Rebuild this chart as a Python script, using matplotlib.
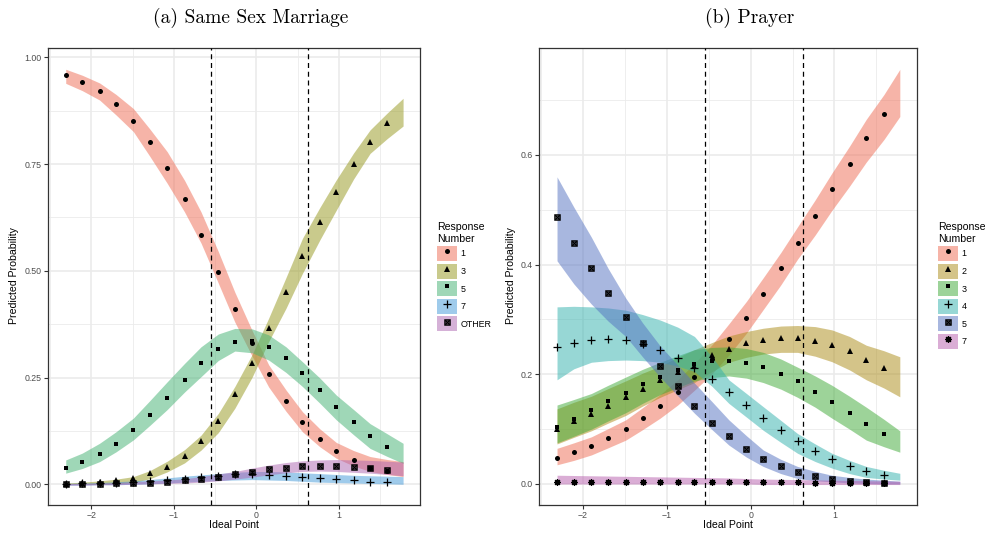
import matplotlib
matplotlib.use('Agg')
import matplotlib.pyplot as plt
from matplotlib.patches import Patch
from matplotlib.lines import Line2D
from matplotlib.legend_handler import HandlerTuple
from matplotlib.ticker import MultipleLocator, FormatStrFormatter

plt.rcParams['font.family'] = ['Liberation Sans', 'DejaVu Sans']

# ideal point grid of the points; the ribbons run one step further
x_pts = [-2.31, -2.11, -1.90, -1.70, -1.49, -1.29, -1.08, -0.87, -0.67, -0.46,
         -0.26, -0.05, 0.15, 0.36, 0.56, 0.77, 0.97, 1.18, 1.38, 1.59]
x_band = x_pts + [1.78]
cuts = [-0.55, 0.63]

# (a) same sex marriage
ssm_labels = ['1', '3', '5', '7', 'OTHER']
ssm_1 = [0.959, 0.942, 0.921, 0.891, 0.852, 0.802, 0.740, 0.667, 0.585, 0.498,
         0.411, 0.332, 0.258, 0.196, 0.147, 0.107, 0.078, 0.056, 0.037, 0.030]
ssm_3 = [0.001, 0.002, 0.005, 0.009, 0.014, 0.026, 0.040, 0.066, 0.101, 0.149,
         0.211, 0.283, 0.365, 0.450, 0.535, 0.614, 0.685, 0.749, 0.802, 0.845]
ssm_5 = [0.039, 0.053, 0.072, 0.095, 0.126, 0.163, 0.203, 0.245, 0.285, 0.317,
         0.334, 0.336, 0.322, 0.296, 0.261, 0.222, 0.182, 0.147, 0.114, 0.088]
ssm_7 = [0.001, 0.002, 0.003, 0.004, 0.006, 0.008, 0.010, 0.013, 0.016, 0.020,
         0.024, 0.025, 0.022, 0.019, 0.017, 0.014, 0.012, 0.009, 0.006, 0.005]
ssm_other = [0.000, 0.000, 0.001, 0.002, 0.003, 0.004, 0.006, 0.009, 0.012, 0.017,
             0.023, 0.028, 0.035, 0.039, 0.043, 0.044, 0.043, 0.040, 0.037, 0.034]

ssm_1_lo = [0.939, 0.922, 0.900, 0.865, 0.826, 0.768, 0.705, 0.638, 0.565, 0.471, 0.380,
            0.300, 0.228, 0.171, 0.123, 0.088, 0.061, 0.043, 0.030, 0.023, 0.018]
ssm_1_hi = [0.972, 0.958, 0.940, 0.913, 0.880, 0.832, 0.779, 0.712, 0.638, 0.545, 0.450,
            0.360, 0.280, 0.221, 0.170, 0.130, 0.098, 0.079, 0.065, 0.058, 0.053]
ssm_3_lo = [0.000, 0.000, 0.000, 0.001, 0.004, 0.013, 0.029, 0.050, 0.080, 0.121, 0.178,
            0.251, 0.334, 0.412, 0.494, 0.572, 0.642, 0.715, 0.775, 0.810, 0.839]
ssm_3_hi = [0.003, 0.005, 0.008, 0.012, 0.018, 0.032, 0.054, 0.081, 0.115, 0.166, 0.229,
            0.304, 0.389, 0.484, 0.576, 0.648, 0.713, 0.776, 0.830, 0.870, 0.904]
ssm_5_lo = [0.026, 0.037, 0.053, 0.076, 0.104, 0.138, 0.175, 0.216, 0.252, 0.290, 0.312,
            0.308, 0.291, 0.262, 0.229, 0.190, 0.151, 0.116, 0.084, 0.065, 0.049]
ssm_5_hi = [0.057, 0.073, 0.096, 0.123, 0.155, 0.196, 0.240, 0.283, 0.322, 0.352, 0.365,
            0.364, 0.350, 0.322, 0.287, 0.249, 0.209, 0.175, 0.142, 0.118, 0.096]
ssm_7_lo = [-0.002, -0.002, -0.001, -0.001, 0.000, 0.001, 0.003, 0.005, 0.007, 0.009, 0.010,
            0.011, 0.010, 0.009, 0.007, 0.005, 0.004, 0.003, 0.002, 0.001, 0.000]
ssm_7_hi = [0.002, 0.003, 0.004, 0.006, 0.008, 0.011, 0.015, 0.019, 0.022, 0.025, 0.028,
            0.030, 0.030, 0.029, 0.027, 0.025, 0.023, 0.021, 0.020, 0.019, 0.018]
ssm_other_lo = [-0.002, -0.002, -0.001, -0.001, 0.000, 0.001, 0.002, 0.003, 0.005, 0.008, 0.012,
                0.017, 0.022, 0.027, 0.030, 0.031, 0.030, 0.028, 0.026, 0.023, 0.020]
ssm_other_hi = [0.002, 0.002, 0.003, 0.004, 0.006, 0.008, 0.010, 0.013, 0.018, 0.024, 0.030,
                0.038, 0.045, 0.051, 0.055, 0.057, 0.058, 0.057, 0.056, 0.054, 0.052]

# (b) prayer
pr_labels = ['1', '2', '3', '4', '5', '7']
pr_1 = [0.048, 0.058, 0.070, 0.084, 0.100, 0.120, 0.142, 0.167, 0.195, 0.228,
        0.264, 0.303, 0.347, 0.393, 0.440, 0.488, 0.537, 0.584, 0.631, 0.675]
pr_2 = [0.100, 0.115, 0.128, 0.142, 0.158, 0.174, 0.190, 0.205, 0.215, 0.235,
        0.247, 0.258, 0.263, 0.267, 0.266, 0.261, 0.254, 0.242, 0.227, 0.211]
pr_3 = [0.104, 0.119, 0.135, 0.151, 0.166, 0.182, 0.195, 0.207, 0.218, 0.224,
        0.225, 0.221, 0.213, 0.200, 0.187, 0.168, 0.150, 0.130, 0.110, 0.091]
pr_4 = [0.250, 0.258, 0.262, 0.264, 0.262, 0.255, 0.245, 0.230, 0.211, 0.191,
        0.167, 0.144, 0.121, 0.098, 0.078, 0.061, 0.045, 0.033, 0.024, 0.016]
pr_5 = [0.486, 0.440, 0.394, 0.349, 0.304, 0.258, 0.216, 0.179, 0.143, 0.112,
        0.088, 0.064, 0.046, 0.032, 0.021, 0.014, 0.009, 0.006, 0.003, 0.001]
pr_7 = [0.004, 0.004, 0.004, 0.004, 0.004, 0.004, 0.004, 0.004, 0.004, 0.004,
        0.004, 0.003, 0.003, 0.003, 0.003, 0.002, 0.002, 0.002, 0.002, 0.001]

pr_1_lo = [0.035, 0.043, 0.053, 0.066, 0.080, 0.099, 0.120, 0.144, 0.171, 0.201, 0.235,
           0.275, 0.318, 0.363, 0.410, 0.454, 0.499, 0.543, 0.587, 0.628, 0.670]
pr_1_hi = [0.065, 0.075, 0.086, 0.101, 0.117, 0.139, 0.163, 0.190, 0.220, 0.254, 0.292,
           0.333, 0.376, 0.422, 0.469, 0.518, 0.567, 0.616, 0.665, 0.710, 0.756]
pr_2_lo = [0.073, 0.085, 0.097, 0.111, 0.125, 0.142, 0.158, 0.172, 0.185, 0.205, 0.222,
           0.231, 0.237, 0.240, 0.240, 0.233, 0.223, 0.208, 0.190, 0.175, 0.159]
pr_2_hi = [0.137, 0.149, 0.160, 0.174, 0.188, 0.202, 0.215, 0.231, 0.245, 0.258, 0.270,
           0.278, 0.284, 0.288, 0.289, 0.287, 0.281, 0.269, 0.253, 0.243, 0.232]
pr_3_lo = [0.075, 0.087, 0.100, 0.115, 0.130, 0.147, 0.163, 0.176, 0.188, 0.194, 0.197,
           0.193, 0.185, 0.173, 0.158, 0.140, 0.120, 0.100, 0.080, 0.068, 0.058]
pr_3_hi = [0.144, 0.154, 0.165, 0.180, 0.195, 0.209, 0.222, 0.234, 0.245, 0.249, 0.250,
           0.247, 0.240, 0.228, 0.213, 0.197, 0.180, 0.160, 0.140, 0.118, 0.097]
pr_4_lo = [0.190, 0.210, 0.222, 0.225, 0.226, 0.225, 0.222, 0.215, 0.205, 0.178, 0.147,
           0.122, 0.098, 0.076, 0.056, 0.041, 0.029, 0.019, 0.012, 0.009, 0.007]
pr_4_hi = [0.323, 0.324, 0.323, 0.321, 0.317, 0.309, 0.299, 0.286, 0.269, 0.232, 0.190,
           0.165, 0.141, 0.116, 0.092, 0.073, 0.056, 0.043, 0.032, 0.025, 0.0195]
pr_5_lo = [0.407, 0.365, 0.328, 0.297, 0.269, 0.232, 0.195, 0.161, 0.129, 0.099, 0.071,
           0.049, 0.032, 0.019, 0.010, 0.006, 0.004, 0.002, 0.001, 0.000, 0.000]
pr_5_hi = [0.560, 0.505, 0.450, 0.393, 0.339, 0.294, 0.252, 0.217, 0.184, 0.150, 0.117,
           0.088, 0.062, 0.045, 0.032, 0.023, 0.016, 0.012, 0.009, 0.007, 0.005]
pr_7_lo = [0.000, 0.000, 0.000, 0.000, 0.000, 0.000, 0.000, 0.000, 0.000, 0.000, 0.000,
           0.000, -0.001, -0.001, -0.001, -0.001, -0.001, -0.001, -0.001, -0.001, -0.001]
pr_7_hi = [0.016, 0.0155, 0.015, 0.0145, 0.014, 0.0135, 0.013, 0.0125, 0.012, 0.0115, 0.011,
           0.010, 0.009, 0.0085, 0.008, 0.0075, 0.007, 0.0065, 0.006, 0.0055, 0.005]

ssm_cols = ['#EF6B53', '#95971B', '#41B171', '#4199D9', '#AD65B1']
pr_cols = ['#EF6B53', '#AB8B15', '#3DA935', '#31B1AD', '#5371C1', '#B75DAD']

MARKS = {
    'o': [dict(marker='o', ms=3.6, color='k', mew=0)],
    '^': [dict(marker='^', ms=4.0, color='k', mew=0)],
    's': [dict(marker='s', ms=3.5, color='k', mew=0)],
    '+': [dict(marker='+', ms=5.8, color='k', mew=0.9)],
    'sx': [dict(marker='s', ms=3.6, mfc='none', mec='k', mew=1.1),
           dict(marker='x', ms=3.2, color='k', mew=0.9)],
    '*': [dict(marker=(8, 2, 0), ms=4.8, color='k', mew=0.9)],
}


def panel(ax, bands, series, cols, marks, labels, ylim, ystep, yfmt, leg_x):
    for (lo, hi), c in zip(bands, cols):
        ax.fill_between(x_band, lo, hi, color=c, alpha=0.5, lw=0, zorder=2)
    for v in cuts:
        ax.axvline(v, color='k', ls=(0, (4, 3)), lw=0.9, zorder=3)
    for y, m in zip(series, marks):
        for kw in MARKS[m]:
            ax.plot(x_pts, y, ls='none', zorder=4, **kw)

    ax.set_xlim(-2.525, 1.985)
    ax.set_ylim(*ylim)
    ax.xaxis.set_major_locator(MultipleLocator(1))
    ax.xaxis.set_minor_locator(MultipleLocator(0.5))
    ax.yaxis.set_major_locator(MultipleLocator(ystep))
    ax.yaxis.set_minor_locator(MultipleLocator(ystep / 2))
    ax.yaxis.set_major_formatter(FormatStrFormatter(yfmt))
    ax.grid(which='major', color='#EBEBEB', lw=1.2, zorder=0)
    ax.grid(which='minor', color='#EBEBEB', lw=0.6, zorder=0)
    ax.set_axisbelow(True)
    ax.tick_params(which='major', length=3, width=0.8, color='#333333',
                   labelsize=6.3, labelcolor='#4D4D4D', pad=1.5)
    ax.tick_params(which='minor', length=0)
    for s in ax.spines.values():
        s.set_color('#333333')
        s.set_linewidth(0.9)

    handles = []
    for c, m in zip(cols, marks):
        h = [Patch(facecolor=c, alpha=0.5, edgecolor='none')]
        for kw in MARKS[m]:
            h.append(Line2D([], [], ls='none', **kw))
        handles.append(tuple(h))
    ax.legend(handles, labels, title='Response\nNumber', loc='upper left',
              bbox_to_anchor=(leg_x, 1 - 222 / 533), bbox_transform=fig.transFigure,
              frameon=False, fontsize=6.4, title_fontsize=7.6,
              handlelength=2.2, handleheight=2.2, labelspacing=0.3,
              handletextpad=0.45, borderpad=0, borderaxespad=0, alignment='left',
              handler_map={tuple: HandlerTuple(ndivide=1, pad=0)})


fig = plt.figure(figsize=(9.9, 5.33), dpi=100)
ax1 = fig.add_axes([48 / 990, 28 / 533, 372 / 990, 457 / 533])
ax2 = fig.add_axes([539 / 990, 28 / 533, 378 / 990, 457 / 533])

panel(ax1,
      [(ssm_1_lo, ssm_1_hi), (ssm_3_lo, ssm_3_hi), (ssm_5_lo, ssm_5_hi),
       (ssm_7_lo, ssm_7_hi), (ssm_other_lo, ssm_other_hi)],
      [ssm_1, ssm_3, ssm_5, ssm_7, ssm_other], ssm_cols,
      ['o', '^', 's', '+', 'sx'], ssm_labels,
      (-0.0485, 1.0218), 0.25, '%.2f', 437 / 990)

panel(ax2,
      [(pr_1_lo, pr_1_hi), (pr_2_lo, pr_2_hi), (pr_3_lo, pr_3_hi),
       (pr_4_lo, pr_4_hi), (pr_5_lo, pr_5_hi), (pr_7_lo, pr_7_hi)],
      [pr_1, pr_2, pr_3, pr_4, pr_5, pr_7], pr_cols,
      ['o', '^', 's', '+', 'sx', '*'], pr_labels,
      (-0.0383, 0.795), 0.2, '%.1f', 938 / 990)

fig.text(251 / 990, 1 - 18 / 533, '(a) Same Sex Marriage', family='cmr10',
         fontsize=14, ha='center', va='center')
fig.text(750 / 990, 1 - 18 / 533, '(b) Prayer', family='cmr10',
         fontsize=14, ha='center', va='center')
for xc in [234, 728]:
    fig.text(xc / 990, 1 - 525 / 533, 'Ideal Point', fontsize=7.6,
             ha='center', va='center')
for xc in [14, 511]:
    fig.text(xc / 990, 1 - 276 / 533, 'Predicted Probability', fontsize=7.6,
             ha='center', va='center', rotation=90)

plt.savefig('out.png', dpi=100)
